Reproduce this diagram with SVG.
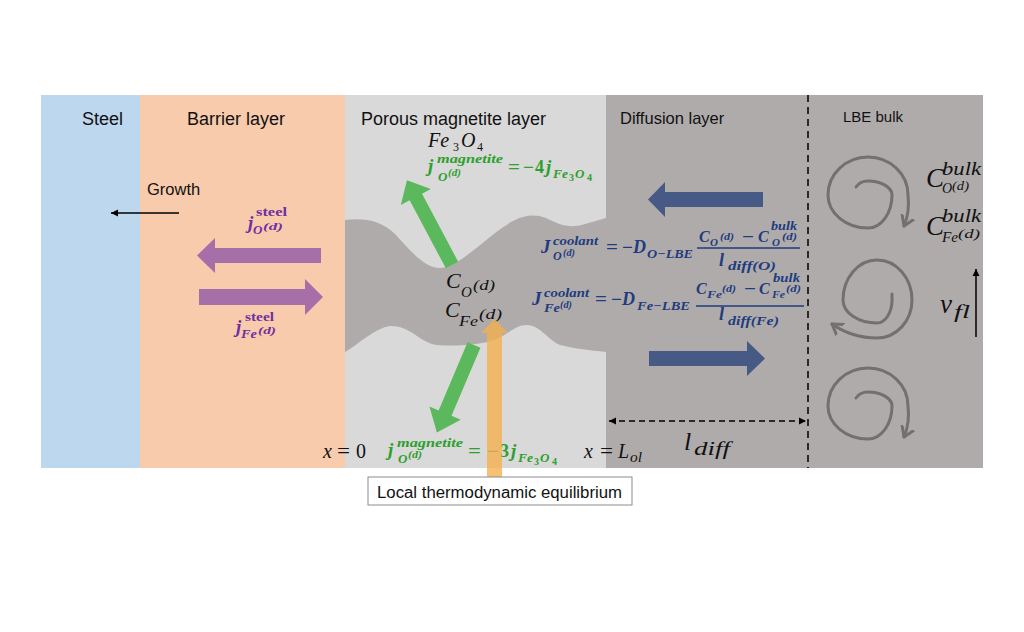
<svg xmlns="http://www.w3.org/2000/svg" width="1024" height="632" viewBox="0 0 1024 632">
<style>
.s{font-family:"Liberation Sans",Arial,sans-serif;fill:#111}
.m{font-family:"Liberation Serif","Times New Roman",serif;font-style:italic;fill:#111}
.mb{font-family:"Liberation Serif","Times New Roman",serif;font-style:italic;font-weight:bold}
.ub{font-family:"Liberation Serif","Times New Roman",serif;font-weight:bold}
.u{font-family:"Liberation Serif","Times New Roman",serif;fill:#111}
.pu{fill:#7030A0}
.gr{fill:#2DA02D}
.bl{fill:#1F3C7E}
.swirl{fill:none;stroke:#737070;stroke-width:3;stroke-linecap:round}
</style>
<defs>
<marker id="ah" markerWidth="8" markerHeight="8" refX="7" refY="4" orient="auto" markerUnits="userSpaceOnUse">
<path d="M0,0.5 L7,4 L0,7.5 Z" fill="#000" stroke="none"/>
</marker>
<marker id="ahs" markerWidth="8" markerHeight="8" refX="7" refY="4" orient="auto-start-reverse" markerUnits="userSpaceOnUse">
<path d="M0,0.5 L7,4 L0,7.5 Z" fill="#000" stroke="none"/>
</marker>
<marker id="sw" markerWidth="20" markerHeight="20" refX="10" refY="10" orient="auto" markerUnits="userSpaceOnUse">
<path d="M-1,3 L10,10 L-1,17" fill="none" stroke="#737070" stroke-width="3" stroke-linecap="round" stroke-linejoin="round"/>
</marker>
</defs>

<g id="steel">
<rect x="41" y="95" width="99" height="373" fill="#BDD7EE"/>
<text class="s" x="82" y="125" font-size="18">Steel</text>
</g>
<g id="barrier-layer">
<rect x="140" y="95" width="205" height="373" fill="#F8CBAD"/>
<text class="s" x="187" y="125" font-size="18">Barrier layer</text>
<text class="s" x="147" y="195" font-size="16.5">Growth</text>
</g>
<g id="porous-magnetite-layer">
<rect x="345" y="95" width="261" height="373" fill="#D9D9D9"/>
<text class="s" x="361" y="125" font-size="18">Porous magnetite layer</text>
</g>
<g id="diffusion-layer">
<rect x="606" y="95" width="202" height="373" fill="#AFABAB"/>
<text class="s" x="620" y="124" font-size="16.5">Diffusion layer</text>
</g>
<g id="lbe-bulk">
<rect x="808" y="95" width="175" height="373" fill="#AFABAB"/>
<text class="s" x="843" y="122" font-size="15">LBE bulk</text>
</g>
<g id="pore-channel">
<path d="M345,220 C365,218 380,220 395,234 C410,250 424,268 440,268 C460,268 490,232 515,220 C525,215 536,214 546,218 C560,225 570,229 585,224 L606,218 L606,352 C590,350 575,349 560,345 C548,340 540,325 527,325 C512,325 505,340 482,343 C462,346 450,346 437,345 C420,343 410,325 390,326 C375,328 360,343 345,352 Z" fill="#AFABAB"/>
</g>

<g id="connectors">
<line x1="179" y1="213" x2="111" y2="213" stroke="#000" stroke-width="1.3" marker-end="url(#ah)"/>
<polygon points="321,248 215,248 215,238 197,255.5 215,273 215,263 321,263" fill="#A66FA7"/>
<polygon points="199,289 305,289 305,279 323,297 305,315 305,305 199,305" fill="#A66FA7"/>
<polygon transform="translate(452,265) rotate(-118)" points="0,-7 77,-7 77,-17 96,0 77,17 77,7 0,7" fill="#5CB85C"/>
<polygon transform="translate(474,345) rotate(113)" points="0,-7 74,-7 74,-17 95,0 74,17 74,7 0,7" fill="#5CB85C"/>
<polygon points="763,192 665,192 665,182 648,199.5 665,217 665,207 763,207" fill="#475A85"/>
<polygon points="649,351 747,351 747,341 765,358.5 747,376 747,366 649,366" fill="#475A85"/>
<line x1="808" y1="95" x2="808" y2="468" stroke="#000" stroke-width="1.5" stroke-dasharray="7,5"/>
<line x1="609" y1="421" x2="806" y2="421" stroke="#000" stroke-width="1.5" stroke-dasharray="6,4" marker-start="url(#ahs)" marker-end="url(#ahs)"/>
<line x1="976" y1="337" x2="976" y2="269" stroke="#000" stroke-width="1.5" marker-end="url(#ah)"/>
<path class="swirl" d="M856,187 Q860,181 868,181 A24,14 0 0 1 892,195 A24,33 0 0 1 868,228 A40,33 0 0 1 828,195 A40,38 0 0 1 868,157 A40,38 0 0 1 908,195 Q910,212 904,226" marker-end="url(#sw)"/>
<path class="swirl" d="M892,294 L892,300 A15,23 0 0 1 877,323 A34,23 0 0 1 843,300 A34,40 0 0 1 877,260 A35,40 0 0 1 912,300 A35,38 0 0 1 877,338 Q852,338 832,324" marker-end="url(#sw)"/>
<path class="swirl" d="M856,398 Q860,392 868,392 A24,14 0 0 1 892,406 A24,33 0 0 1 868,439 A40,33 0 0 1 828,406 A40,38 0 0 1 868,368 A40,38 0 0 1 908,406 Q910,423 904,437" marker-end="url(#sw)"/>
</g>

<g id="steel-fluxes">
<text class="mb pu" x="248" y="229" font-size="19">j</text>
<text class="ub pu" x="256" y="216" font-size="12" textLength="31" lengthAdjust="spacingAndGlyphs">steel</text>
<text class="mb pu" x="253" y="234" font-size="13">O</text>
<text class="mb pu" x="263" y="230" font-size="11" textLength="20" lengthAdjust="spacingAndGlyphs">(d)</text>
<text class="mb pu" x="236" y="333" font-size="19">j</text>
<text class="ub pu" x="245" y="321" font-size="12" textLength="29" lengthAdjust="spacingAndGlyphs">steel</text>
<text class="mb pu" x="241" y="338" font-size="13" textLength="16" lengthAdjust="spacingAndGlyphs">Fe</text>
<text class="mb pu" x="258" y="334" font-size="11" textLength="18" lengthAdjust="spacingAndGlyphs">(d)</text>
</g>

<g id="magnetite-labels">
<text class="m" x="428" y="147" font-size="20">Fe</text>
<text class="u" x="453" y="151" font-size="12">3</text>
<text class="m" x="461" y="147" font-size="20">O</text>
<text class="u" x="477" y="151" font-size="12">4</text>

<text class="mb gr" x="428" y="172" font-size="19">j</text>
<text class="mb gr" x="437" y="163" font-size="12" textLength="66" lengthAdjust="spacingAndGlyphs">magnetite</text>
<text class="mb gr" x="438" y="181" font-size="13">O</text>
<text class="mb gr" x="448" y="176" font-size="11" textLength="13" lengthAdjust="spacingAndGlyphs">(d)</text>
<text class="ub gr" x="508" y="173" font-size="18" textLength="12" lengthAdjust="spacingAndGlyphs">=</text>
<text class="ub gr" x="523" y="173" font-size="18" textLength="11" lengthAdjust="spacingAndGlyphs">−</text>
<text class="ub gr" x="535" y="173" font-size="18">4</text>
<text class="mb gr" x="546" y="173" font-size="19">j</text>
<text class="mb gr" x="553" y="178" font-size="13" textLength="15" lengthAdjust="spacingAndGlyphs">Fe</text>
<text class="ub gr" x="569" y="181" font-size="10">3</text>
<text class="mb gr" x="575" y="178" font-size="13">O</text>
<text class="ub gr" x="587" y="181" font-size="10">4</text>

<text class="mb gr" x="388" y="456" font-size="19">j</text>
<text class="mb gr" x="397" y="447" font-size="12.5" textLength="66" lengthAdjust="spacingAndGlyphs">magnetite</text>
<text class="mb gr" x="398" y="463" font-size="13">O</text>
<text class="mb gr" x="408" y="458" font-size="11" textLength="14" lengthAdjust="spacingAndGlyphs">(d)</text>
<text class="ub gr" x="468" y="457" font-size="18" textLength="13" lengthAdjust="spacingAndGlyphs">=</text>
<text class="ub gr" x="487" y="457" font-size="18" textLength="12" lengthAdjust="spacingAndGlyphs">−</text>
<text class="ub gr" x="500" y="457" font-size="18">3</text>
<text class="mb gr" x="511" y="457" font-size="19">j</text>
<text class="mb gr" x="518" y="462" font-size="13" textLength="15" lengthAdjust="spacingAndGlyphs">Fe</text>
<text class="ub gr" x="534" y="465" font-size="10">3</text>
<text class="mb gr" x="540" y="462" font-size="13">O</text>
<text class="ub gr" x="552" y="465" font-size="10">4</text>

<text class="m" x="323" y="458" font-size="20">x</text>
<text class="u" x="337" y="458" font-size="20" textLength="13" lengthAdjust="spacingAndGlyphs">=</text>
<text class="u" x="356" y="458" font-size="20">0</text>
<text class="m" x="584" y="458" font-size="20">x</text>
<text class="u" x="600" y="458" font-size="20" textLength="13" lengthAdjust="spacingAndGlyphs">=</text>
<text class="m" x="618" y="458" font-size="20">L</text>
<text class="m" x="630" y="462" font-size="14" textLength="12" lengthAdjust="spacingAndGlyphs">ol</text>
</g>

<g id="interface-concentrations">
<text class="m" x="446" y="288" font-size="22">C</text>
<text class="m" x="461" y="297" font-size="15">O</text>
<text class="m" x="473" y="290" font-size="15" textLength="22" lengthAdjust="spacingAndGlyphs">(d)</text>
<text class="m" x="445" y="317" font-size="22">C</text>
<text class="m" x="459" y="326" font-size="15" textLength="19" lengthAdjust="spacingAndGlyphs">Fe</text>
<text class="m" x="479" y="319" font-size="15" textLength="23" lengthAdjust="spacingAndGlyphs">(d)</text>
</g>

<g id="coolant-fluxes">
<text class="mb bl" x="541" y="253" font-size="19">J</text>
<text class="mb bl" x="553" y="245" font-size="12" textLength="45" lengthAdjust="spacingAndGlyphs">coolant</text>
<text class="mb bl" x="553" y="260" font-size="12">O</text>
<text class="mb bl" x="563" y="256" font-size="10" textLength="12" lengthAdjust="spacingAndGlyphs">(d)</text>
<text class="ub bl" x="606" y="253" font-size="18" textLength="12" lengthAdjust="spacingAndGlyphs">=</text>
<text class="ub bl" x="622" y="253" font-size="18" textLength="11" lengthAdjust="spacingAndGlyphs">−</text>
<text class="mb bl" x="633" y="253" font-size="18">D</text>
<text class="mb bl" x="647" y="258" font-size="12.5" textLength="46" lengthAdjust="spacingAndGlyphs">O−LBE</text>
<text class="mb bl" x="699" y="242" font-size="16">C</text>
<text class="mb bl" x="710" y="246" font-size="11">O</text>
<text class="mb bl" x="720" y="240" font-size="10" textLength="14" lengthAdjust="spacingAndGlyphs">(d)</text>
<text class="ub bl" x="742" y="242" font-size="16" textLength="12" lengthAdjust="spacingAndGlyphs">−</text>
<text class="mb bl" x="758" y="242" font-size="16">C</text>
<text class="mb bl" x="771" y="230" font-size="11.5" textLength="26" lengthAdjust="spacingAndGlyphs">bulk</text>
<text class="mb bl" x="772" y="246" font-size="11">O</text>
<text class="mb bl" x="782" y="240" font-size="10" textLength="15" lengthAdjust="spacingAndGlyphs">(d)</text>
<line x1="697" y1="248" x2="800" y2="248" stroke="#1F3C7E" stroke-width="1.5"/>
<text class="mb bl" x="719" y="266" font-size="18">l</text>
<text class="mb bl" x="728" y="270" font-size="13" textLength="48" lengthAdjust="spacingAndGlyphs">diff(O)</text>

<text class="mb bl" x="532" y="305" font-size="19">J</text>
<text class="mb bl" x="544" y="297" font-size="12" textLength="45" lengthAdjust="spacingAndGlyphs">coolant</text>
<text class="mb bl" x="544" y="312" font-size="12" textLength="16" lengthAdjust="spacingAndGlyphs">Fe</text>
<text class="mb bl" x="560" y="308" font-size="10" textLength="12" lengthAdjust="spacingAndGlyphs">(d)</text>
<text class="ub bl" x="595" y="305" font-size="18" textLength="12" lengthAdjust="spacingAndGlyphs">=</text>
<text class="ub bl" x="611" y="305" font-size="18" textLength="11" lengthAdjust="spacingAndGlyphs">−</text>
<text class="mb bl" x="622" y="305" font-size="18">D</text>
<text class="mb bl" x="637" y="310" font-size="12.5" textLength="53" lengthAdjust="spacingAndGlyphs">Fe−LBE</text>
<text class="mb bl" x="696" y="294" font-size="16">C</text>
<text class="mb bl" x="707" y="298" font-size="11" textLength="15" lengthAdjust="spacingAndGlyphs">Fe</text>
<text class="mb bl" x="722" y="292" font-size="10" textLength="14" lengthAdjust="spacingAndGlyphs">(d)</text>
<text class="ub bl" x="744" y="294" font-size="16" textLength="12" lengthAdjust="spacingAndGlyphs">−</text>
<text class="mb bl" x="759" y="294" font-size="16">C</text>
<text class="mb bl" x="773" y="282" font-size="11.5" textLength="27" lengthAdjust="spacingAndGlyphs">bulk</text>
<text class="mb bl" x="772" y="298" font-size="11" textLength="13" lengthAdjust="spacingAndGlyphs">Fe</text>
<text class="mb bl" x="786" y="292" font-size="10" textLength="15" lengthAdjust="spacingAndGlyphs">(d)</text>
<line x1="696" y1="306" x2="804" y2="306" stroke="#1F3C7E" stroke-width="1.5"/>
<text class="mb bl" x="719" y="320" font-size="18">l</text>
<text class="mb bl" x="728" y="325" font-size="13" textLength="51" lengthAdjust="spacingAndGlyphs">diff(Fe)</text>
</g>

<g id="diffusion-length">
<text class="m" x="684" y="450" font-size="26">l</text>
<text class="m" x="694" y="455" font-size="19" textLength="36" lengthAdjust="spacingAndGlyphs">diff</text>
</g>

<g id="bulk-labels">
<text class="m" x="926" y="187" font-size="27">C</text>
<text class="m" x="942" y="175" font-size="18" textLength="39" lengthAdjust="spacingAndGlyphs">bulk</text>
<text class="m" x="942" y="193" font-size="14">O</text>
<text class="m" x="952" y="190" font-size="13" textLength="17" lengthAdjust="spacingAndGlyphs">(d)</text>
<text class="m" x="926" y="235" font-size="27">C</text>
<text class="m" x="942" y="222" font-size="18" textLength="39" lengthAdjust="spacingAndGlyphs">bulk</text>
<text class="m" x="942" y="242" font-size="14" textLength="16" lengthAdjust="spacingAndGlyphs">Fe</text>
<text class="m" x="958" y="238" font-size="13" textLength="22" lengthAdjust="spacingAndGlyphs">(d)</text>
<text class="m" x="940" y="313" font-size="27">v</text>
<text class="m" x="954" y="318" font-size="18" textLength="16" lengthAdjust="spacingAndGlyphs">fl</text>
</g>

<g id="equilibrium">
<polygon points="487,478 487,333 481,333 494.5,319 508,333 502,333 502,478" fill="#F5AE4A" fill-opacity="0.78"/>
<rect x="368" y="477" width="264" height="28" fill="#FFFFFF" stroke="#8C8C8C" stroke-width="1"/>
<text class="s" x="377" y="498" font-size="16" textLength="245" lengthAdjust="spacingAndGlyphs">Local thermodynamic equilibrium</text>
</g>
</svg>
